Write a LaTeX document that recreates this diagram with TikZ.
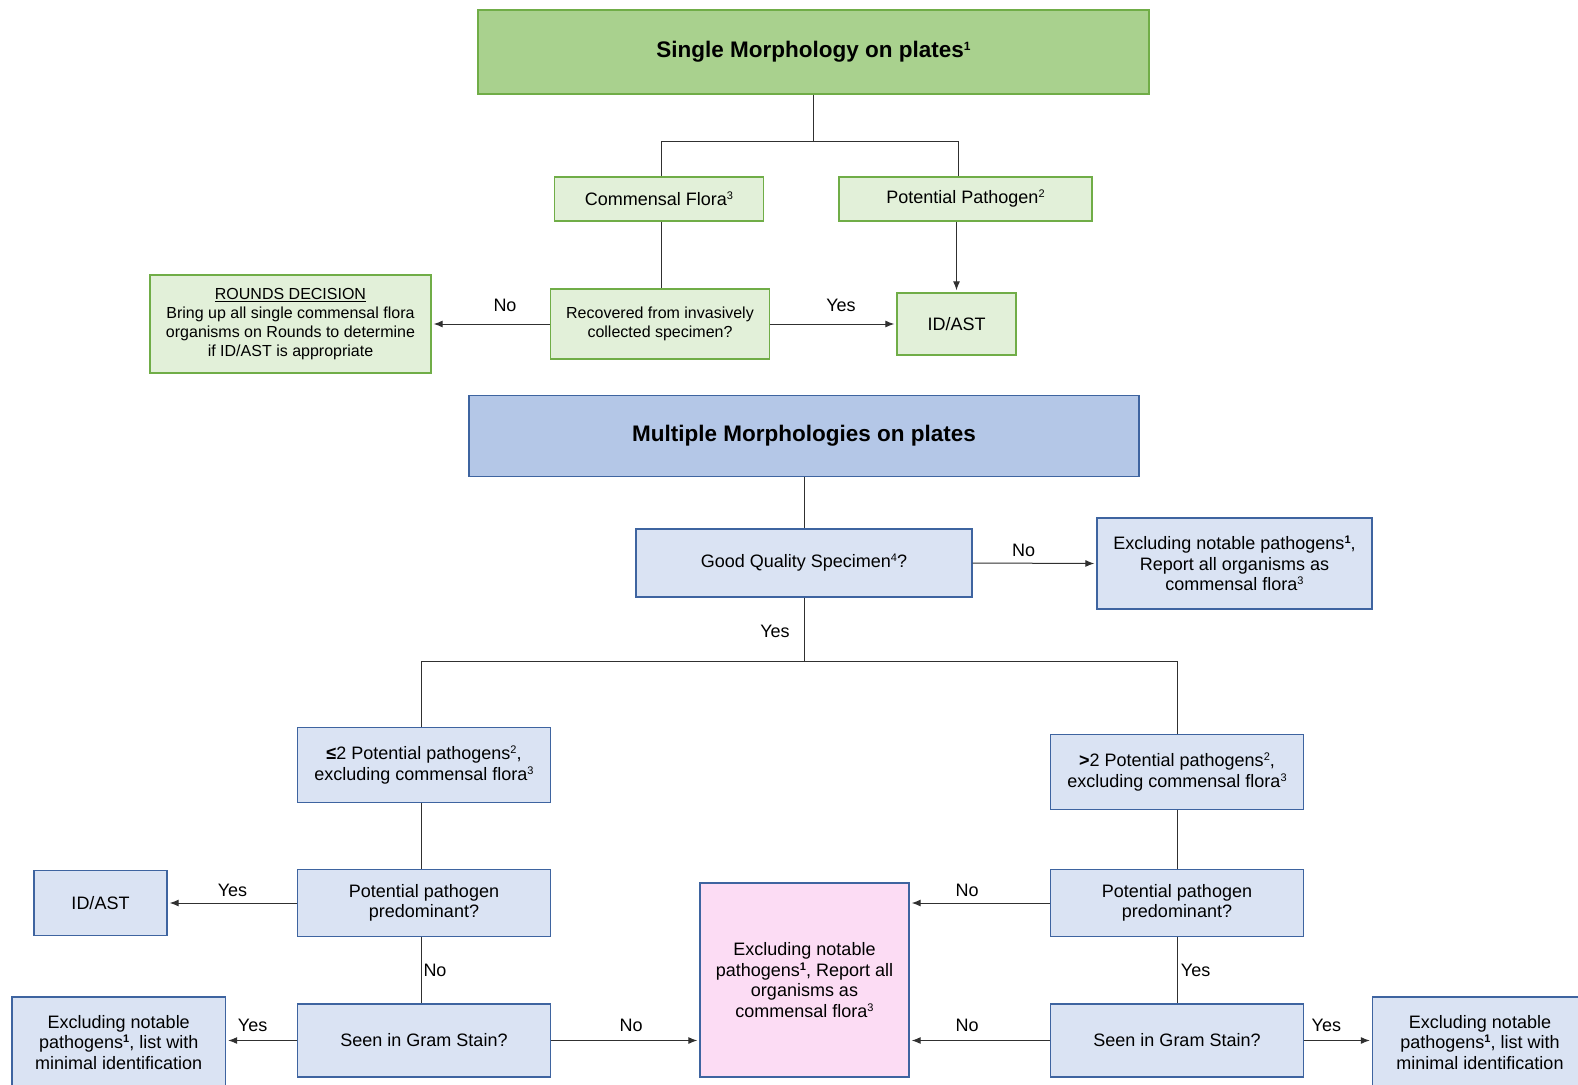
\documentclass[tikz,border=0pt]{standalone}
\usepackage{fontspec}
\setmainfont{Liberation Sans}
\usetikzlibrary{arrows.meta}
\definecolor{gdark}{HTML}{A9D18E}
\definecolor{glight}{HTML}{E2F0D9}
\definecolor{gborder}{HTML}{70AD47}
\definecolor{bdark}{HTML}{B4C7E7}
\definecolor{blight}{HTML}{DAE3F3}
\definecolor{bborder}{HTML}{3E64A0}
\definecolor{pinkf}{HTML}{FCDCF4}
\definecolor{linec}{HTML}{303030}
\newcommand{\supx}[1]{\raisebox{6pt}{\fontsize{11}{11}\selectfont #1}}
\newcommand{\supb}[1]{\raisebox{6pt}{\fontsize{11}{11}\selectfont\bfseries #1}}
\newcommand{\suph}[1]{\raisebox{7pt}{\fontsize{12}{12}\selectfont\bfseries #1}}
\tikzset{
  box/.style={draw, rectangle, inner sep=0pt, align=center, line width=1.4pt, font=\fontsize{18}{20.5}\selectfont},
  gbox/.style={box, fill=glight, draw=gborder},
  bbox/.style={box, fill=blight, draw=bborder},
  conn/.style={draw=linec, line width=1pt},
  arr/.style={conn, -{Latex[length=9pt,width=7pt]}, shorten >=2pt},
  lbl/.style={font=\fontsize{18}{20}\selectfont, inner sep=0pt},
  headfont/.style={font=\bfseries\fontsize{22.5}{26}\selectfont},
  smallfont/.style={font=\fontsize{16}{19}\selectfont}
}
\begin{document}
\begin{tikzpicture}[x=1pt,y=-1pt]
\useasboundingbox (0,0) rectangle (1578,1084);
\clip (0,0) rectangle (1578,1084);
\fill[white] (0,0) rectangle (1578,1084);

% ---------- Single morphology ----------
\node[box, fill=gdark, draw=gborder, minimum width=671pt, minimum height=84pt, headfont] (single) at (813.5,52) {Single Morphology on plates\suph{1}};
\node[gbox, minimum width=209.5pt, minimum height=44pt] (comm) at (659,199) {Commensal Flora\supx{3}};
\node[gbox, minimum width=253pt, minimum height=44pt] (pp) at (965.5,199) {Potential Pathogen\supx{2}};
\node[gbox, minimum width=218.5pt, minimum height=70pt, smallfont] (rec) at (660,324) {Recovered from invasively\\collected specimen?};
\node[gbox, minimum width=119pt, minimum height=62pt] (idg) at (956.5,324) {ID/AST};
\node[gbox, minimum width=281pt, minimum height=98pt, smallfont] (rounds) at (290.5,324) {\underline{ROUNDS DECISION}\\Bring up all single commensal flora\\organisms on Rounds to determine\\if ID/AST is appropriate};

\coordinate (j1) at (813.5,141);
\draw[conn] (single.south) -- (j1);
\draw[conn] ([xshift=2pt]comm.north) |- ([xshift=-7.5pt]pp.north |- j1) -- ([xshift=-7.5pt]pp.north);
\draw[conn] ([xshift=2pt]comm.south) -- ([xshift=1pt]rec.north);
\draw[arr] (idg.north |- pp.south) -- (idg.north);
\draw[arr] (rec.west) -- (rounds.east);
\draw[arr] (rec.east) -- (idg.west);
\node[lbl] (l1) at (505,305) {No};
\node[lbl] (l2) at (841,305) {Yes};

% ---------- Multiple morphologies ----------
\node[box, fill=bdark, draw=bborder, minimum width=670pt, minimum height=80.5pt, headfont] (multi) at (804,436) {Multiple Morphologies on plates};
\node[bbox, minimum width=336pt, minimum height=68pt] (good) at (804,563) {Good Quality Specimen\supx{4}?};
\node[bbox, minimum width=275pt, minimum height=91pt] (exc1) at (1234.5,563.5) {Excluding notable pathogens\supb{1},\\Report all organisms as\\commensal flora\supx{3}};
\node[bbox, minimum width=252.5pt, minimum height=74.5pt] (le2) at (424,765) {\textbf{≤}2 Potential pathogens\supx{2},\\excluding commensal flora\supx{3}};
\node[bbox, minimum width=252.5pt, minimum height=74.5pt] (gt2) at (1177,772) {\textbf{>}2 Potential pathogens\supx{2},\\excluding commensal flora\supx{3}};
\node[bbox, minimum width=252.5pt, minimum height=67.5pt] (lppp) at (424,903) {Potential pathogen\\predominant?};
\node[bbox, minimum width=133pt, minimum height=65.5pt] (idb) at (100.5,903) {ID/AST};
\node[bbox, minimum width=252.5pt, minimum height=73pt] (lseen) at (424,1040.5) {Seen in Gram Stain?};
\node[bbox, minimum width=213.5pt, minimum height=91pt] (lexc) at (118.75,1042.5) {Excluding notable\\pathogens\supb{1}, list with\\minimal identification};
\node[box, fill=pinkf, draw=bborder, minimum width=209pt, minimum height=194pt] (pink) at (804.5,980) {Excluding notable\\pathogens\supb{1}, Report all\\organisms as\\commensal flora\supx{3}};
\node[bbox, minimum width=252.5pt, minimum height=67.5pt] (rppp) at (1177,903) {Potential pathogen\\predominant?};
\node[bbox, minimum width=252.5pt, minimum height=73pt] (rseen) at (1177,1040.5) {Seen in Gram Stain?};
\node[bbox, minimum width=215pt, minimum height=91pt] (rexc) at (1480,1042.5) {Excluding notable\\pathogens\supb{1}, list with\\minimal identification};

\draw[conn] (multi.south) -- (good.north);
\draw[arr] (good.east) -- (exc1.west);
\coordinate (j2) at (804,661);
\draw[conn] (good.south) -- (j2);
\draw[conn] ([xshift=-3pt]le2.north) |- (j2) -| (gt2.north);
\draw[conn] ([xshift=-3pt]le2.south) -- ([xshift=-3pt]lppp.north);
\draw[arr] (lppp.west) -- (idb.east);
\draw[conn] ([xshift=-3pt]lppp.south) -- ([xshift=-3pt]lseen.north);
\draw[arr] (lseen.west) -- (lexc.east |- lseen.west);
\draw[arr] (lseen.east) -- (pink.west |- lseen.east);
\draw[conn] (gt2.south) -- (rppp.north);
\draw[arr] (rppp.west) -- (pink.east |- rppp.west);
\draw[conn] (rppp.south) -- (rseen.north);
\draw[arr] (rseen.west) -- (pink.east |- rseen.west);
\draw[arr] (rseen.east) -- (rexc.west |- rseen.east);

\node[lbl] (l3) at (1023.5,550.5) {No};
\node[lbl] (l4) at (775,631) {Yes};
\node[lbl] (l5) at (232.5,890.5) {Yes};
\node[lbl] (l6) at (435,970) {No};
\node[lbl] (l7) at (252.6,1025.5) {Yes};
\node[lbl] (l8) at (631,1025.5) {No};
\node[lbl] (l9) at (967,890.5) {No};
\node[lbl] (l10) at (1195.6,970) {Yes};
\node[lbl] (l11) at (967,1025.5) {No};
\node[lbl] (l12) at (1326.4,1025.5) {Yes};
\end{tikzpicture}
\end{document}
